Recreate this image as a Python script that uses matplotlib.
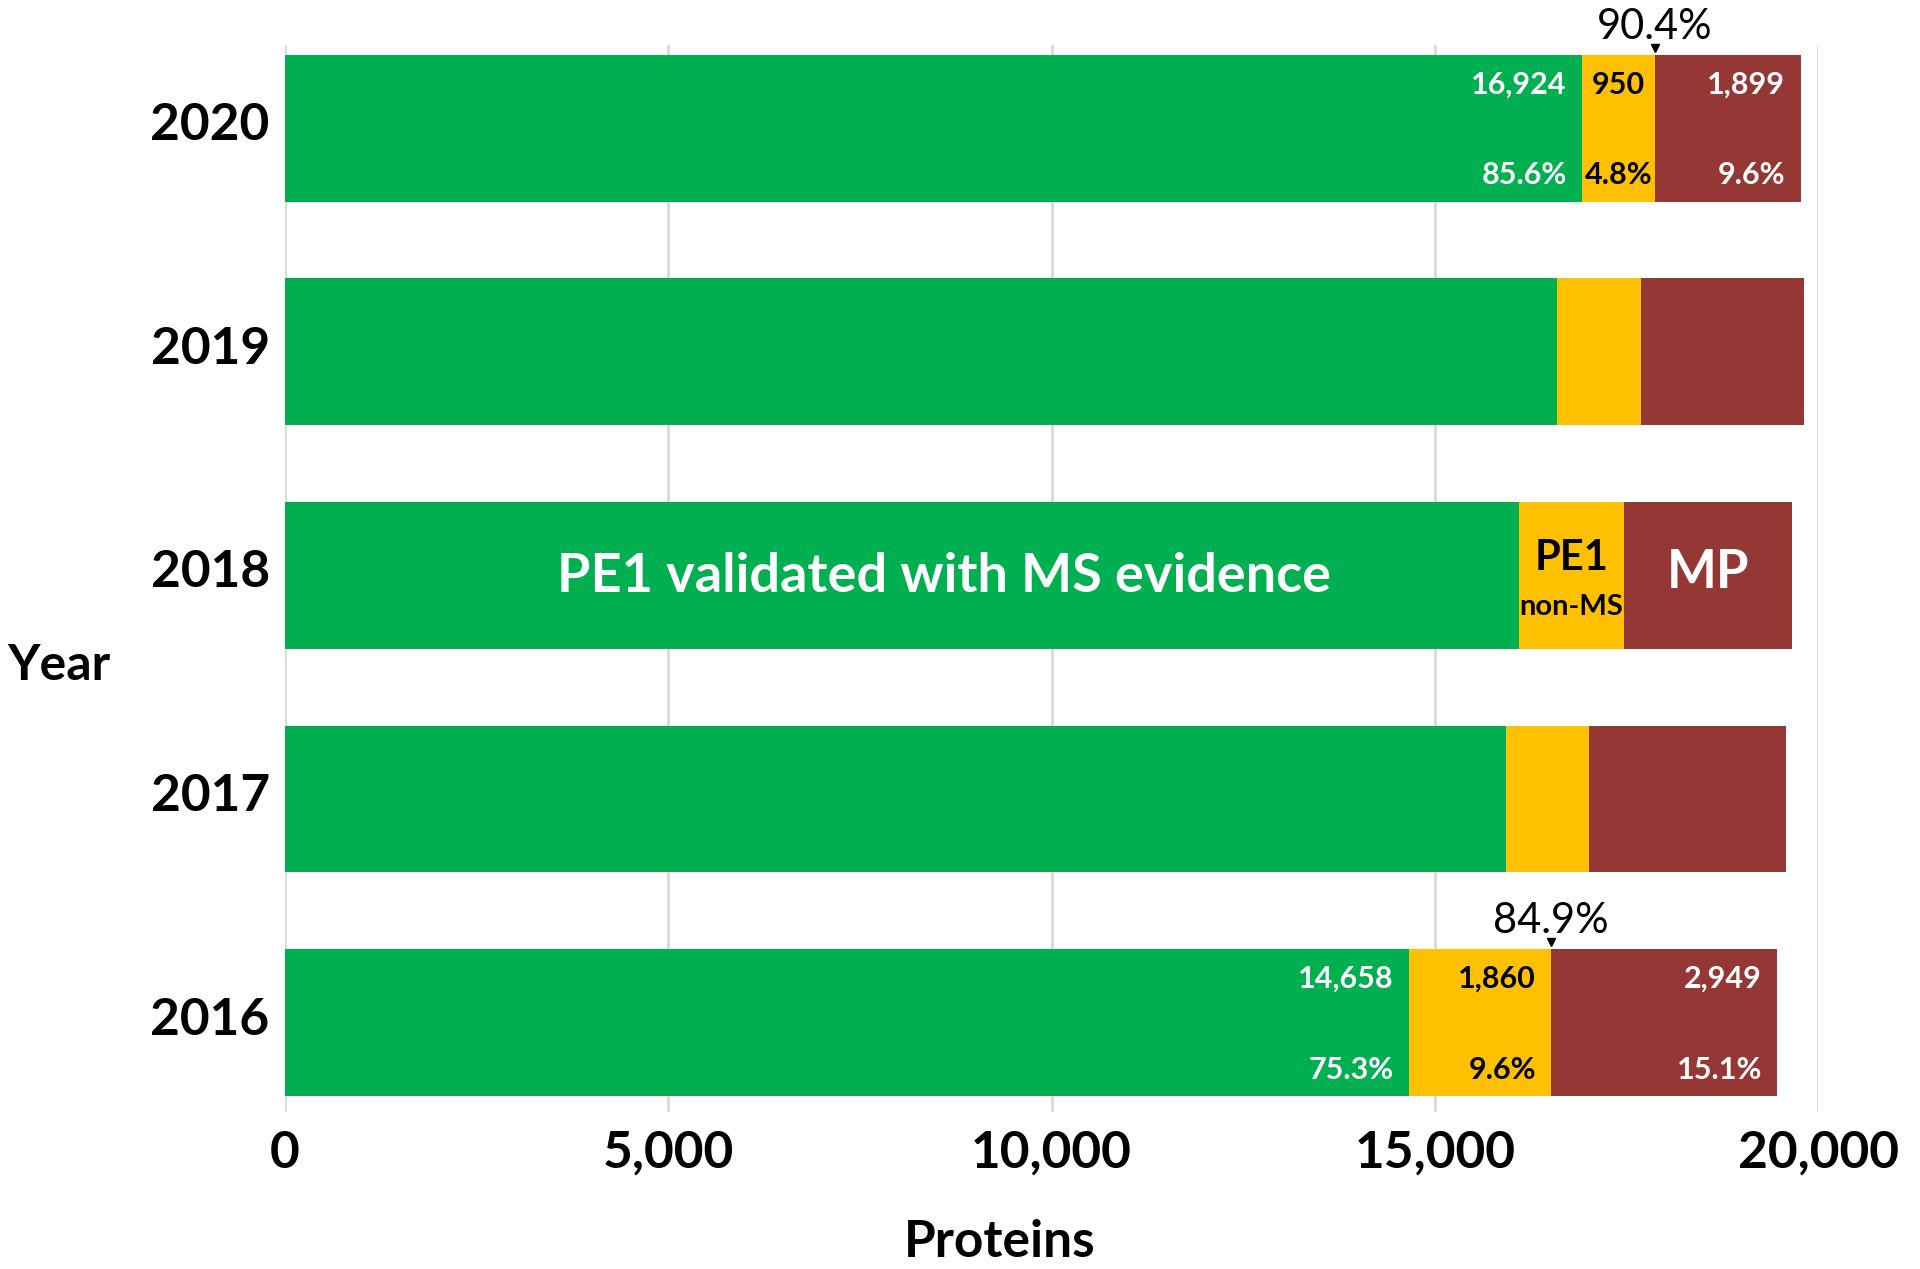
import matplotlib.pyplot as plt
import matplotlib.transforms as mtransforms
import numpy as np

plt.rcParams['font.family'] = ['Lato', 'DejaVu Sans']

years = ['2016', '2017', '2018', '2019', '2020']
pe1_ms = [14658, 15930, 16100, 16600, 16924]
pe1_non_ms = [1860, 1078, 1370, 1094, 950]
missing = [2949, 2579, 2186, 2129, 1899]
labelled_years = ['2016', '2020']

green = '#00B050'
yellow = '#FFC000'
red = '#953735'

fig = plt.figure(figsize=(19.2, 12.69), dpi=100)
ax = fig.add_axes([285 / 1920, 1 - 1112 / 1269, 1533 / 1920, (1112 - 45) / 1269])

y = np.arange(len(years))
h = 0.657
ms = np.array(pe1_ms)
nms = np.array(pe1_non_ms)
mp = np.array(missing)
ax.barh(y, ms, height=h, color=green)
ax.barh(y, nms, left=ms, height=h, color=yellow)
ax.barh(y, mp, left=ms + nms, height=h, color=red)

ax.set_xlim(0, 20000)
ax.set_ylim(-0.40, 4.3725)
ax.set_xticks([0, 5000, 10000, 15000, 20000])
ax.set_xticklabels(['0', '5,000', '10,000', '15,000', '20,000'])
ax.set_yticks(y)
ax.set_yticklabels(years)
ax.tick_params(axis='both', length=0, labelsize=37)
ax.tick_params(axis='x', pad=13)
ax.tick_params(axis='y', pad=11)
for t in ax.get_xticklabels() + ax.get_yticklabels():
    t.set_fontweight('bold')
# year labels sit a little above the bar centres
shift = mtransforms.ScaledTranslation(0, 5 / 72, fig.dpi_scale_trans)
for t in ax.get_yticklabels():
    t.set_transform(t.get_transform() + shift)
ax.grid(axis='x', color='#D9D9D9', linewidth=2)
ax.set_axisbelow(True)
for s in ax.spines.values():
    s.set_visible(False)

ax.set_xlabel('Proteins', fontsize=37, fontweight='bold')
ax.xaxis.set_label_coords((1000 - 285) / 1533, -0.1)
fig.text(59 / 1920, 1 - 665 / 1269, 'Year', fontsize=36, fontweight='bold',
         ha='center', va='center')

# value labels for the first and last year
for yr in labelled_years:
    i = years.index(yr)
    total = ms[i] + nms[i] + mp[i]
    segs = [(ms[i], 0, 'white'), (nms[i], ms[i], 'black'), (mp[i], ms[i] + nms[i], 'white')]
    for val, left, col in segs:
        pct = 100 * val / total
        if val < 1200:
            x, ha, dx = left + val / 2, 'center', 0
        else:
            x, ha, dx = left + val, 'right', -11
        ax.annotate(f'{val:,}', (x, i + 0.195), xytext=(dx, 0), textcoords='offset points',
                    ha=ha, va='center', color=col, fontsize=22, fontweight='bold')
        ax.annotate(f'{pct:.1f}%', (x, i - 0.21), xytext=(dx, 0), textcoords='offset points',
                    ha=ha, va='center', color=col, fontsize=22, fontweight='bold')
    pe1 = ms[i] + nms[i]
    ax.plot(pe1, i + h / 2 + 0.03, marker='v', color='black', markersize=6, clip_on=False)
    ax.annotate(f'{100 * pe1 / total:.1f}%', (pe1, i + h / 2), xytext=(0, 20),
                textcoords='offset points', ha='center', va='center', fontsize=30,
                annotation_clip=False)

# category labels in the middle bar
i = years.index('2018')
ax.text(ms[i] / 2 + 550, i - 0.005, 'PE1 validated with MS evidence', ha='center', va='center',
        color='white', fontsize=39, fontweight='bold')
ax.text(ms[i] + nms[i] / 2, i + 0.08, 'PE1', ha='center', va='center',
        color='black', fontsize=30, fontweight='bold')
ax.text(ms[i] + nms[i] / 2, i - 0.14, 'non-MS', ha='center', va='center',
        color='black', fontsize=21, fontweight='bold')
ax.text(ms[i] + nms[i] + mp[i] / 2, i + 0.015, 'MP', ha='center', va='center',
        color='white', fontsize=38, fontweight='bold')

fig.savefig('out.png', dpi=100)
